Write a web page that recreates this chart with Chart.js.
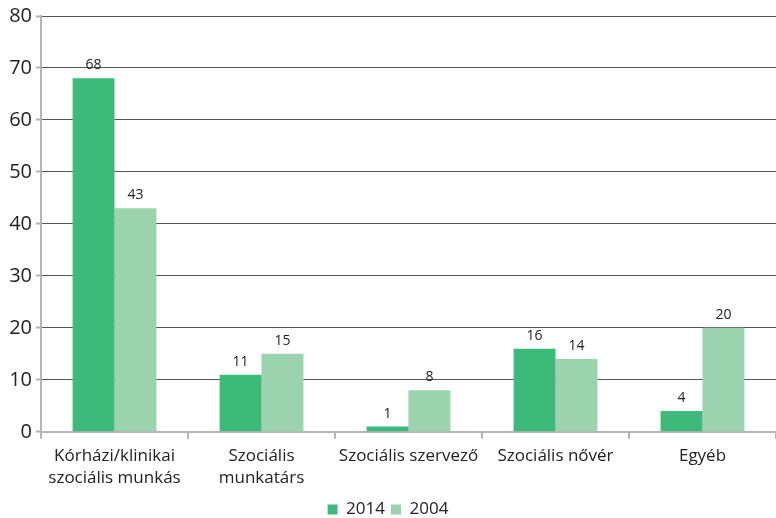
<!DOCTYPE html>
<html>
<head>
<meta charset="utf-8">
<script src="https://cdn.jsdelivr.net/npm/chart.js@4"></script>
<style>
  html, body { margin: 0; padding: 0; background: #fff; }
  #wrap { width: 776px; height: 518px; }
</style>
</head>
<body>
<div id="wrap"><canvas id="myChart"></canvas></div>
<script>
// chart data
const categories = [
  ['Kórházi/klinikai', 'szociális munkás'],
  ['Szociális', 'munkatárs'],
  'Szociális szervező',
  'Szociális nővér',
  'Egyéb'
];
const values2014 = [68, 11, 1, 16, 4];
const values2004 = [43, 15, 8, 14, 20];
const yTicks = [0, 10, 20, 30, 40, 50, 60, 70, 80];

const FONT = '"Open Sans", "Noto Sans", sans-serif';

// small plugin to write the value above each bar
const barLabels = {
  id: 'barLabels',
  afterDatasetsDraw(chart) {
    const ctx = chart.ctx;
    ctx.save();
    ctx.font = '14px ' + FONT;
    ctx.fillStyle = '#222';
    ctx.textAlign = 'center';
    ctx.textBaseline = 'bottom';
    chart.data.datasets.forEach((ds, i) => {
      chart.getDatasetMeta(i).data.forEach((bar, j) => {
        ctx.fillText(ds.data[j], bar.x, bar.y - 6);
      });
    });
    ctx.restore();
  }
};

const ctx = document.getElementById('myChart').getContext('2d');
const myChart = new Chart(ctx, {
  type: 'bar',
  data: {
    labels: categories,
    datasets: [{
      label: '2014',
      data: values2014,
      backgroundColor: '#3dba7a',
      categoryPercentage: 0.57,
      barPercentage: 1
    }, {
      label: '2004',
      data: values2004,
      backgroundColor: '#9bd3ae',
      categoryPercentage: 0.57,
      barPercentage: 1
    }]
  },
  options: {
    responsive: true,
    maintainAspectRatio: false,
    animation: false,
    layout: { padding: { top: 8, right: 0, left: 0, bottom: -10 } },
    plugins: {
      tooltip: { enabled: false },
      legend: {
        position: 'bottom',
        labels: {
          boxWidth: 10,
          boxHeight: 10,
          padding: 6,
          color: '#222',
          font: { family: FONT, size: 17 }
        }
      }
    },
    scales: {
      x: {
        grid: {
          drawOnChartArea: false,
          drawTicks: true,
          tickLength: 7,
          color: '#b5b5b5',
          lineWidth: 2
        },
        border: { color: '#b5b5b5', width: 2 },
        ticks: {
          color: '#222',
          padding: 6,
          maxRotation: 0,
          font: { family: FONT, size: 17, lineHeight: 1.3 }
        }
      },
      y: {
        min: 0,
        max: 80,
        afterBuildTicks(axis) {
          axis.ticks = yTicks.map(v => ({ value: v }));
        },
        afterFit(axis) { axis.width = 41; },
        grid: {
          color: '#555',
          lineWidth: 1,
          tickLength: 5,
          tickColor: '#b5b5b5',
          tickWidth: 2
        },
        border: { color: '#b5b5b5', width: 2 },
        ticks: {
          color: '#222',
          padding: 4,
          font: { family: FONT, size: 20 }
        }
      }
    }
  },
  plugins: [barLabels]
});
</script>
</body>
</html>
